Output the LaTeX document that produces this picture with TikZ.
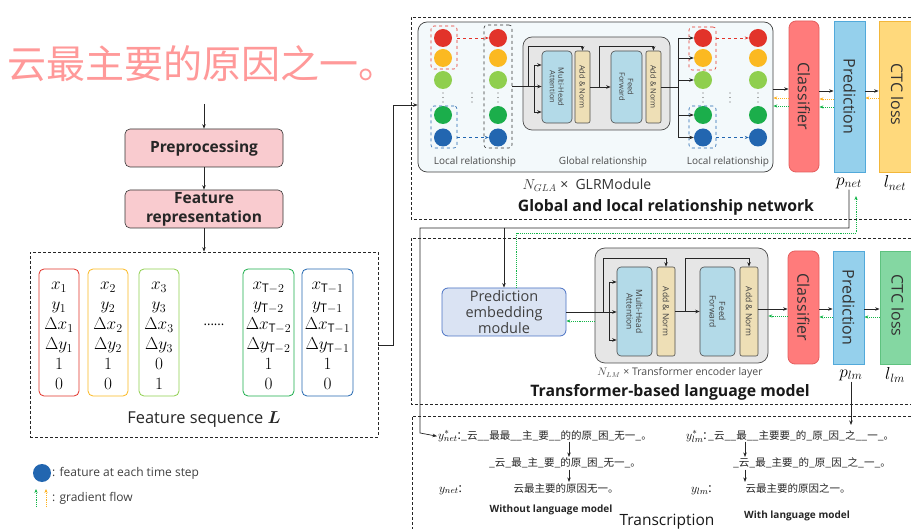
\documentclass[tikz,border=0pt]{standalone}
\usepackage{bm}
\usepackage{fontspec}
\setmainfont{Open Sans}
\newfontfamily\cjk{Noto Sans CJK SC}
\usetikzlibrary{arrows.meta,calc}
\definecolor{cred}{HTML}{E2332A}
\definecolor{corange}{HTML}{FBB921}
\definecolor{clgreen}{HTML}{8FCF4E}
\definecolor{cgreen}{HTML}{1BAE4B}
\definecolor{cblue}{HTML}{2266B0}
\definecolor{pinkbox}{HTML}{F9CBCF}
\definecolor{mhablue}{HTML}{B3DAE8}
\definecolor{antan}{HTML}{EEDFB6}
\definecolor{clsred}{HTML}{FF7B7B}
\definecolor{clsborder}{HTML}{E45E5E}
\definecolor{predblue}{HTML}{95D0EC}
\definecolor{predborder}{HTML}{52A9DA}
\definecolor{ctcyellow}{HTML}{FFD97C}
\definecolor{ctcyborder}{HTML}{F3B73A}
\definecolor{ctcgreen}{HTML}{84D7A2}
\definecolor{ctcgborder}{HTML}{5EC27F}
\definecolor{pemblue}{HTML}{DAE3F3}
\definecolor{pemborder}{HTML}{4A72C4}
\definecolor{gradgreen}{HTML}{12B548}
\definecolor{gradorange}{HTML}{FFB21E}
\definecolor{modfill}{HTML}{F3F9FB}
\definecolor{globfill}{HTML}{E6E6E6}
\tikzset{
  arr/.style={-{Stealth[length=4.5pt,width=3.5pt]}, line width=0.7pt, black!85},
  conn/.style={line width=0.7pt, black!85},
  garr/.style={-{Stealth[length=4pt,width=3.2pt]}, line width=0.9pt, densely dotted, gradgreen},
  oarr/.style={-{Stealth[length=4pt,width=3.2pt]}, line width=0.9pt, densely dotted, gradorange},
  rarr/.style={-{Stealth[length=4pt,width=3pt]}, line width=0.6pt, dashed, cred},
  barr/.style={-{Stealth[length=4pt,width=3pt]}, line width=0.6pt, dashed, cblue},
  dbox/.style={draw=black!85, line width=0.7pt, dash pattern=on 3pt off 2pt},
  feat/.style={circle, inner sep=0pt, minimum size=18pt},
  proc/.style={draw=black!80, fill=pinkbox, rounded corners=5pt, minimum width=158, minimum height=38,
    font=\bfseries\fontsize{15.5}{19}\selectfont, line width=0.6pt, inner sep=0pt, text=black!85},
  fcol/.style={draw, rounded corners=5pt, line width=0.8pt, minimum height=127, inner sep=0pt},
  coltext/.style={align=center, font=\fontsize{17}{20}\selectfont, inner sep=0pt},
  mhabox/.style={draw=black!70, fill=mhablue, rounded corners=4pt, line width=0.6pt},
  anbox/.style={draw=black!70, fill=antan, rounded corners=2pt, line width=0.6pt},
  rottext/.style={rotate=-90, align=center, text=black!75, font=\fontsize{7.5}{8.5}\selectfont},
  vlabel/.style={rotate=-90, font=\fontsize{16}{16}\selectfont, text=black!80},
  smalllabel/.style={text=black!70, font=\fontsize{10}{12}\selectfont},
  titletext/.style={font=\bfseries\fontsize{15.8}{18}\selectfont, text=black!90},
  cjkt/.style={font=\cjk\fontsize{10.5}{12}\selectfont, text=black!85, inner sep=1pt},
  mathlab/.style={font=\fontsize{12.5}{12.5}\selectfont, inner sep=1pt},
  biglab/.style={font=\fontsize{17}{17}\selectfont, inner sep=1pt},
}
\begin{document}
\begin{tikzpicture}[x=1pt,y=-1pt]
\useasboundingbox (0,0) rectangle (911,529);
\fill[white] (0,0) rectangle (911,529);

% ---------------- left column ----------------
\node[font=\cjk\fontsize{39}{39}\selectfont, text=red!40, inner sep=0pt] (hw) at (203,64) {云最主要的原因之一。};
\coordinate (hwout) at (204,104);
\node[proc] (pre) at (204,148) {Preprocessing};
\node[proc, align=center] (frep) at (204,209) {Feature\\representation};
\node[dbox, minimum width=348, minimum height=185] (fs) at (204,344.5) {};
\draw[arr] (hwout) -- (pre.north);
\draw[arr] (pre.south) -- (frep.north);
\draw[arr] (frep.south) -- (fs.north);

\node[fcol, draw=cred, minimum width=40] (f1) at (59,332.5) {};
\node[fcol, draw=corange, minimum width=40] (f2) at (108,332.5) {};
\node[fcol, draw=clgreen, minimum width=40] (f3) at (159,332.5) {};
\node[fcol, draw=cgreen, minimum width=51] (f4) at (268.5,332.5) {};
\node[fcol, draw=cblue, minimum width=51] (f5) at (327.5,332.5) {};
\node[coltext] at (59,336) {$x_1$\\$y_1$\\$\Delta x_1$\\$\Delta y_1$\\$1$\\$0$};
\node[coltext] at (108,336) {$x_2$\\$y_2$\\$\Delta x_2$\\$\Delta y_2$\\$1$\\$0$};
\node[coltext] at (159,336) {$x_3$\\$y_3$\\$\Delta x_3$\\$\Delta y_3$\\$0$\\$1$};
\node[coltext] at (268.5,336) {$x_{\mathrm{T}-2}$\\$y_{\mathrm{T}-2}$\\$\Delta x_{\mathrm{T}-2}$\\$\Delta y_{\mathrm{T}-2}$\\$1$\\$0$};
\node[coltext] at (327.5,336) {$x_{\mathrm{T}-1}$\\$y_{\mathrm{T}-1}$\\$\Delta x_{\mathrm{T}-1}$\\$\Delta y_{\mathrm{T}-1}$\\$1$\\$0$};
\node[font=\fontsize{13}{13}\selectfont] (cdots) at (214,325) {......};
\node[font=\fontsize{16.4}{18}\selectfont, text=black!85] (fslab) at (204,420) {Feature sequence $\bm{L}$};

% legend
\node[feat, fill=cblue] (lgc) at (42,473) {};
\node[anchor=west, font=\fontsize{12}{14}\selectfont, text=black!75, inner sep=1pt] (lgt) at (51,473) {: feature at each time step};
\coordinate (lg1a) at (36,507); \coordinate (lg1b) at (36,489);
\coordinate (lg2a) at (46,507); \coordinate (lg2b) at (46,489);
\draw[garr] (lg1a) -- (lg1b);
\draw[oarr] (lg2a) -- (lg2b);
\node[anchor=west, font=\fontsize{12}{14}\selectfont, text=black!75, inner sep=1pt] (lgg) at (51,498) {: gradient flow};

% ---------------- global and local relationship network ----------------
\draw[dbox] (911,17) -- (411,17) -- (411,219) -- (911,219);
\node[draw=black!75, fill=modfill, rounded corners=9pt, line width=0.7pt, minimum width=355, minimum height=150] (mod1) at (595.5,97) {};
\draw[arr] (fs.east |- 0,345) -- (393,345) -- (393,105) -- (mod1.west |- 0,105);

\foreach \n/\y/\c in {1/38/cred,2/58/corange,3/80/clgreen,4/115/cgreen,5/137.5/cblue}{
  \node[feat, fill=\c] (a\n) at (443,\y) {};
  \node[feat, fill=\c] (b\n) at (498,\y) {};
  \node[feat, fill=\c] (c\n) at (703,\y) {};
  \node[feat, fill=\c] (d\n) at (758,\y) {};
}
\foreach \x in {443,472,498,703,730,758}{
  \foreach \dy in {93,97.5,102}{ \fill[black!65] (\x,\dy) circle (0.6pt); }
}
\node[draw=cred, dashed, rounded corners=3pt, minimum width=26, minimum height=43, line width=0.6pt] (ra) at (444,47.5) {};
\node[draw=cblue, dashed, rounded corners=3pt, minimum width=26, minimum height=42, line width=0.6pt] (ba) at (444,127) {};
\node[draw=black!80, dashed, rounded corners=3pt, minimum width=28, minimum height=123, line width=0.6pt] (colb) at (498,86.5) {};
\node[draw=cred, dashed, rounded corners=3pt, minimum width=27, minimum height=43, line width=0.6pt] (rc) at (702.5,48.5) {};
\node[draw=cblue, dashed, rounded corners=3pt, minimum width=27, minimum height=42, line width=0.6pt] (bc) at (702.5,127) {};
\draw[rarr] (ra.east |- a1) -- (b1.west);
\draw[barr] (ba.east |- a5) -- (b5.west);
\draw[rarr] (rc.east |- c1) -- (d1.west);
\draw[barr] (bc.east |- c5) -- (d5.west);

\node[draw=black!70, fill=globfill, rounded corners=9pt, line width=0.7pt, minimum width=147, minimum height=93] (glob1) at (596.5,83.5) {};
\node[mhabox, minimum width=30, minimum height=72] (mha1) at (557,87) {};
\node[anbox, minimum width=15, minimum height=72] (an11) at (582.5,87) {};
\node[mhabox, minimum width=31, minimum height=72] (ff1) at (626.5,87) {};
\node[anbox, minimum width=15, minimum height=72] (an12) at (653.5,87) {};
\node[rottext] at (mha1) {Multi-Head\\Attention};
\node[rottext] at (an11) {Add \& Norm};
\node[rottext] at (ff1) {Feed\\Forward};
\node[rottext] at (an12) {Add \& Norm};

\draw[conn] (colb.east) -- (534,86.5);
\draw[conn] (534,65) -- (534,112);
\draw[arr] (534,65) -- (mha1.west |- 0,65);
\draw[arr] (534,86.5) -- (mha1.west |- 0,86.5);
\draw[arr] (534,112) -- (mha1.west |- 0,112);
\draw[arr] (528,86.5) -- (528,46) -- (an11.north |- 0,46) -- (an11.north);
\draw[arr] (an11.east) -- (ff1.west);
\draw[arr] (599,87) -- (599,46) -- (an12.north |- 0,46) -- (an12.north);
\draw[conn] (an12.east) -- (678,87);
\draw[conn] (678,38) -- (678,137.5);
\foreach \n in {1,...,5}{ \draw[arr] (c\n.west -| 678,0) -- (c\n.west); }

\node[smalllabel] (ll1) at (475,162) {Local relationship};
\node[smalllabel] (gl1) at (603,162) {Global relationship};
\node[smalllabel] (ll2) at (728,162) {Local relationship};

\node[draw=clsborder, fill=clsred, rounded corners=7pt, line width=0.8pt, minimum width=30, minimum height=151] (cls1) at (804,96.5) {};
\node[vlabel] at (cls1) {Classifier};
\node[draw=predborder, fill=predblue, line width=0.8pt, minimum width=31, minimum height=151] (pred1) at (849.5,96.5) {};
\node[vlabel] at (pred1) {Prediction};
\node[draw=ctcyborder, fill=ctcyellow, line width=0.8pt, minimum width=36, minimum height=151] (ctc1) at (897,96.5) {};
\node[vlabel, xshift=-2pt] at (ctc1) {CTC loss};

\draw[arr] (mod1.east |- 0,89) -- (cls1.west |- 0,89);
\draw[oarr] (cls1.west |- 0,98) -- (mod1.east |- 0,98);
\draw[garr] (cls1.west |- 0,106) -- (mod1.east |- 0,106);
\draw[arr] (cls1.east |- 0,91) -- (pred1.west |- 0,91);
\draw[oarr] (pred1.west |- 0,99) -- (cls1.east |- 0,99);
\draw[garr] (pred1.west |- 0,107) -- (cls1.east |- 0,107);
\draw[arr] (pred1.east |- 0,91) -- (ctc1.west |- 0,91);
\draw[oarr] (ctc1.west |- 0,98) -- (pred1.east |- 0,98);

\node[biglab] (pnet) at (849,183) {$p_{net}$};
\node[biglab] (lnet) at (895,183) {$l_{net}$};
\node[font=\fontsize{14}{16}\selectfont, text=black!80] (nglr) at (587,185) {$N_{GLA}$ × \ GLRModule};
\node[titletext] (t1) at (666,207) {Global and local relationship network};

% ---------------- transformer-based language model ----------------
\draw[dbox] (911,238) -- (411,238) -- (411,404) -- (911,404);
\node[draw=pemborder, fill=pemblue, rounded corners=6pt, line width=0.8pt, minimum width=124, minimum height=48,
  align=center, font=\fontsize{14.5}{16}\selectfont, text=black!75, inner sep=0pt] (pem) at (504,312) {Prediction\\embedding\\module};
\node[draw=black!70, fill=globfill, rounded corners=10pt, line width=0.7pt, minimum width=173, minimum height=115] (tb) at (681.5,305.5) {};
\node[mhabox, minimum width=35, minimum height=89] (mha2) at (634.5,311.5) {};
\node[anbox, minimum width=18, minimum height=89] (an21) at (666,311.5) {};
\node[mhabox, minimum width=35, minimum height=89] (ff2) at (717.5,311.5) {};
\node[anbox, minimum width=18, minimum height=89] (an22) at (749,311.5) {};
\node[rottext, font=\fontsize{8.5}{9.5}\selectfont] at (mha2) {Multi-Head\\Attention};
\node[rottext, font=\fontsize{8.5}{9.5}\selectfont] at (an21) {Add \& Norm};
\node[rottext, font=\fontsize{8.5}{9.5}\selectfont] at (ff2) {Feed\\Forward};
\node[rottext, font=\fontsize{8.5}{9.5}\selectfont] at (an22) {Add \& Norm};

\draw[conn] (pem.east) -- (609,312);
\draw[conn] (609,282) -- (609,340);
\draw[arr] (609,282) -- (mha2.west |- 0,282);
\draw[arr] (609,312) -- (mha2.west |- 0,312);
\draw[arr] (609,340) -- (mha2.west |- 0,340);
\draw[arr] (603,312) -- (603,258) -- (an21.north |- 0,258) -- (an21.north);
\draw[garr] (tb.west |- 0,321) -- (pem.east |- 0,321);
\draw[arr] (an21.east) -- (ff2.west);
\draw[arr] (685,311.5) -- (685,258) -- (an22.north |- 0,258) -- (an22.north);

\node[draw=clsborder, fill=clsred, rounded corners=7pt, line width=0.8pt, minimum width=31, minimum height=113] (cls2) at (803.5,307.5) {};
\node[vlabel] at (cls2) {Classifier};
\node[draw=predborder, fill=predblue, line width=0.8pt, minimum width=31, minimum height=113] (pred2) at (848.5,307.5) {};
\node[vlabel] at (pred2) {Prediction};
\node[draw=ctcgborder, fill=ctcgreen, line width=0.8pt, minimum width=35, minimum height=113] (ctc2) at (897.5,307.5) {};
\node[vlabel, xshift=-2pt] at (ctc2) {CTC loss};

\draw[arr] (an22.east |- 0,309) -- (cls2.west |- 0,309);
\draw[garr] (cls2.west |- 0,316) -- (tb.east |- 0,316);
\draw[arr] (cls2.east |- 0,309) -- (pred2.west |- 0,309);
\draw[garr] (pred2.west |- 0,317) -- (cls2.east |- 0,317);
\draw[arr] (pred2.east |- 0,309) -- (ctc2.west |- 0,309);
\draw[garr] (ctc2.west |- 0,317) -- (pred2.east |- 0,317);

\node[font=\fontsize{10.5}{12}\selectfont, text=black!70] (nlm) at (680,373) {$N_{LM}$ × Transformer encoder layer};
\node[biglab] (plm) at (851,375) {$p_{lm}$};
\node[biglab] (llm) at (895,375) {$l_{lm}$};
\node[titletext] (t2) at (670,392) {Transformer-based language model};

% ---------------- transcription ----------------
\draw[dbox] (911,416) -- (412,416) -- (412,529);
\node[mathlab, anchor=base west] (ysn) at (437,439) {$y^{*}_{net}$:};
\node[cjkt, anchor=base west] (L1) at (460,439) {\_云\_\_最最\_\_主\_要\_\_的的原\_困\_无一\_。};
\node[cjkt, anchor=base] (L2) at (565,467) {\_云\_最\_主\_要\_的原\_困\_无一\_。};
\node[mathlab, anchor=base west] (yn) at (438,492) {$y_{net}$:};
\node[cjkt, anchor=base] (L3) at (566,492) {云最主要的原因无一。};
\node[font=\bfseries\fontsize{10}{12}\selectfont, text=black!85] (wo) at (551,510) {Without language model};
\draw[arr] (L1.south -| 569,0) -- (L2.north -| 569,0);
\draw[arr] (L2.south -| 569,0) -- (L3.north -| 569,0);

\node[mathlab, anchor=base west] (ysl) at (685,439) {$y^{*}_{lm}$:};
\node[cjkt, anchor=base west] (R1) at (707,439) {\_云\_\_最\_\_主要要\_的\_原\_因\_之\_\_一\_。};
\node[cjkt, anchor=base] (R2) at (812,467) {\_云\_最\_主要\_的\_原\_因\_之\_一\_。};
\node[mathlab, anchor=base west] (yl) at (690,492) {$y_{lm}$:};
\node[cjkt, anchor=base] (R3) at (798,492) {云最主要的原因之一。};
\node[font=\bfseries\fontsize{10}{12}\selectfont, text=black!85] (wi) at (797,516) {With language model};
\draw[arr] (R1.south -| 745,0) -- (R2.north -| 745,0);
\draw[arr] (R2.south -| 745,0) -- (R3.north -| 745,0);
\node[font=\fontsize{15.5}{17}\selectfont, anchor=base, text=black!90] (tr) at (667,525) {Transcription};

% ---------------- long connectors ----------------
\coordinate (j1) at (849,228);
\coordinate (j2) at (420,228);
\coordinate (j3) at (420,433);
\draw[arr] (pnet.south) -- (j1) -- (j2) -- (j3) -- (ysn.west);
\draw[arr] (pem.north |- j2) -- (pem.north);
\coordinate (g0) at ($(pem.north)+(12,0)$);
\coordinate (g1) at (516,233);
\coordinate (g2) at (856,233);
\coordinate (g3) at (856,196);
\draw[garr] (g0) -- (g1) -- (g2) -- (g3);
\coordinate (plmend) at (851,425);
\draw[arr] (plm.south) -- (plmend);
\end{tikzpicture}
\end{document}
